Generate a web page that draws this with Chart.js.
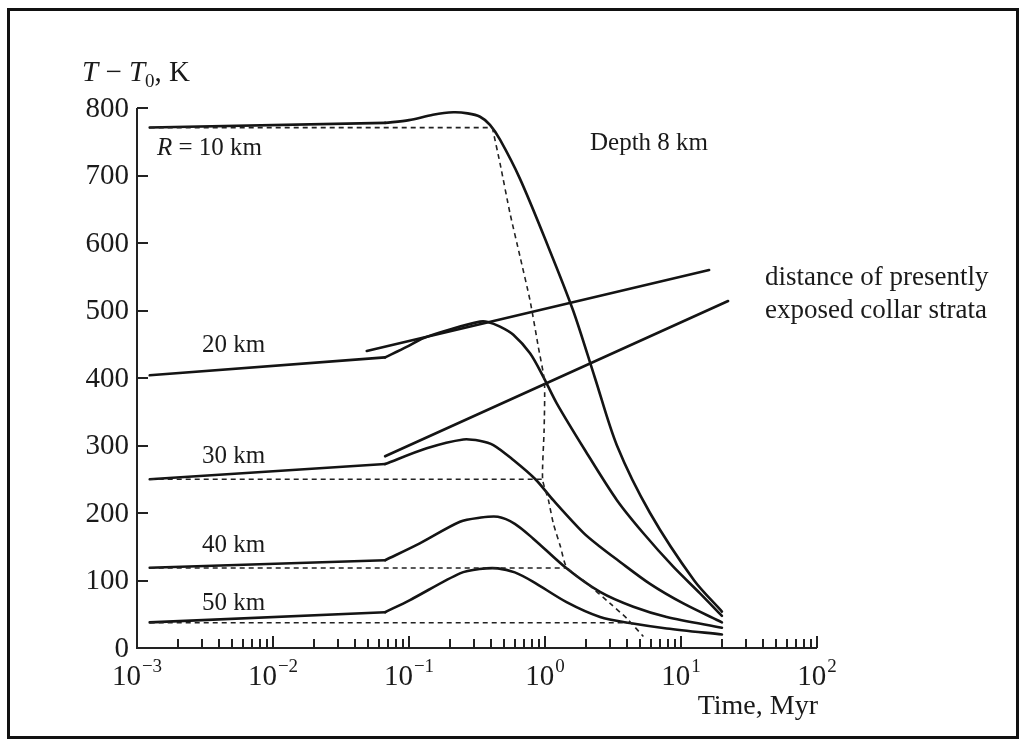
<!DOCTYPE html>
<html>
<head>
<meta charset="utf-8">
<script src="https://cdn.jsdelivr.net/npm/chart.js@4/dist/chart.umd.min.js"></script>
<style>
html,body{margin:0;padding:0;background:#fff;}
#wrap{position:relative;width:1031px;height:749px;}
</style>
</head>
<body>
<div id="wrap"><canvas id="c" width="1031" height="749"></canvas></div>
<script>
// ---- data (time in Myr, temperature excess in K) ----
// first two points of each curve: the straight early segment up to the knee
const timeR10 = [0.00124, 0.0667, 0.1, 0.15, 0.212, 0.27, 0.333, 0.394, 0.467, 0.655, 1.03, 1.61, 2.33, 3.38, 5.92, 12.5, 20];
const tempR10 = [771, 778, 782, 790, 793.6, 792, 787, 775, 753, 695, 600, 500, 400, 300, 200, 100, 54];

const timeR20 = [0.00124, 0.0667, 0.096, 0.127, 0.2, 0.333, 0.38, 0.467, 0.585, 0.776, 0.97, 1.22, 1.97, 3.38, 5.29, 8.77, 13.8, 20];
const tempR20 = [404, 430.5, 446, 459, 472, 483.5, 483, 476, 464, 436.5, 402, 362.5, 293, 219, 170, 120.5, 81, 47.5];

const timeR30 = [0.00124, 0.0667, 0.135, 0.251, 0.33, 0.417, 0.585, 0.85, 1.15, 1.91, 2.54, 3.38, 5.92, 10.4, 20];
const tempR30 = [250, 272.5, 296, 309, 307, 300.7, 278.5, 250, 219, 171, 150, 131, 95, 66, 38];

const timeR40 = [0.00124, 0.0667, 0.12, 0.237, 0.33, 0.45, 0.6, 0.82, 1.44, 2.54, 4.46, 7.85, 20];
const tempR40 = [119, 130, 155, 187, 193, 194.5, 184, 162, 118, 83, 61, 46, 30];

const timeR50 = [0.00124, 0.0667, 0.1016, 0.237, 0.33, 0.45, 0.6, 0.82, 1.44, 2.54, 4.2, 7.85, 20];
const tempR50 = [38, 53, 71, 110.6, 117, 118, 112, 98, 68, 46, 37, 29, 20];

// initial-temperature reference levels (dashed) and where they end
const levelStart = 0.00124;
const levelTemps = [771, 250, 118.5, 37.5];
const levelEnds  = [0.41, 0.96, 1.44, 4.1];

// dashed locus where each curve returns to its initial level
const timeLocus = [0.41, 0.467, 0.553, 0.655, 0.776, 0.893, 0.99, 0.985, 0.96, 1.06, 1.15, 1.3, 1.44, 2.03, 3.01, 3.99, 5.29];
const tempLocus = [771, 718, 644, 580, 515, 446, 395, 323, 250, 219, 185, 150, 120, 96, 66, 44, 17];

// "distance of presently exposed collar strata" lines
const timeUpperLine = [0.0489, 16.1];
const tempUpperLine = [440, 560];
const timeLowerLine = [0.0667, 22.2];
const tempLowerLine = [284, 514];

// axis ticks
const xTickExponents = [-3, -2, -1, 0, 1, 2];
const yTickValues = [0, 100, 200, 300, 400, 500, 600, 700, 800];

// ---- build chart ----
const pts = (t, v) => t.map((x, i) => ({x: x, y: v[i]}));
const INK = '#141414';
function line(t, v, tension) {
  return {data: pts(t, v), borderColor: INK, borderWidth: 2.6, pointRadius: 0, tension: tension,
          fill: false, borderJoinStyle: 'round', borderCapStyle: 'round'};
}
function dashed(t, v, tension) {
  return {data: pts(t, v), borderColor: '#222', borderWidth: 1.6, pointRadius: 0, tension: tension,
          borderDash: [5, 4], fill: false};
}

const datasets = [];
levelTemps.forEach((lv, i) => datasets.push(dashed([levelStart, levelEnds[i]], [lv, lv], 0)));
datasets.push(dashed(timeLocus, tempLocus, 0.2));
[[timeR10, tempR10], [timeR20, tempR20], [timeR30, tempR30], [timeR40, tempR40], [timeR50, tempR50]].forEach(([t, v]) => {
  datasets.push(line(t.slice(0, 2), v.slice(0, 2), 0));      // straight early part
  datasets.push(line(t.slice(1), v.slice(1), 0.3));          // smooth heating / cooling part
});
datasets.push(line(timeUpperLine, tempUpperLine, 0));
datasets.push(line(timeLowerLine, tempLowerLine, 0));

const SERIF = '"Liberation Serif", "DejaVu Serif", serif';

const decor = {
  id: 'decor',
  afterDraw(chart) {
    const ctx = chart.ctx;
    const xs = chart.scales.x, ys = chart.scales.y;
    ctx.save();
    // outer frame
    ctx.strokeStyle = '#111';
    ctx.lineWidth = 3;
    ctx.strokeRect(8.5, 9.5, 1009, 728);

    const x0 = xs.getPixelForValue(1e-3), x1 = xs.getPixelForValue(1e2);
    const y0 = ys.getPixelForValue(0), y1 = ys.getPixelForValue(800);
    ctx.strokeStyle = '#222';
    ctx.lineWidth = 2;
    ctx.beginPath();
    ctx.moveTo(x0, y1); ctx.lineTo(x0, y0); ctx.lineTo(x1, y0);
    ctx.stroke();

    // y ticks (inward)
    ctx.beginPath();
    yTickValues.forEach(v => { const py = Math.round(ys.getPixelForValue(v)); ctx.moveTo(x0, py); ctx.lineTo(x0 + 11, py); });
    // x ticks (inward), decades longer
    xTickExponents.forEach((e, k) => {
      const px = Math.round(xs.getPixelForValue(Math.pow(10, e)));
      ctx.moveTo(px, y0); ctx.lineTo(px, y0 - 12);
      if (k < xTickExponents.length - 1) {
        for (let m = 2; m <= 9; m++) {
          const q = Math.round(xs.getPixelForValue(m * Math.pow(10, e)));
          ctx.moveTo(q, y0); ctx.lineTo(q, y0 - 9);
        }
      }
    });
    ctx.stroke();

    ctx.fillStyle = '#1a1a1a';
    // y tick labels
    ctx.font = '29px ' + SERIF;
    ctx.textAlign = 'right';
    ctx.textBaseline = 'middle';
    yTickValues.forEach(v => ctx.fillText(String(v), x0 - 8, ys.getPixelForValue(v) + 1));

    // x tick labels 10^e
    ctx.textAlign = 'left';
    ctx.textBaseline = 'alphabetic';
    xTickExponents.forEach(e => {
      const px = xs.getPixelForValue(Math.pow(10, e));
      const sup = e < 0 ? '\u2212' + (-e) : String(e);
      ctx.font = '29px ' + SERIF;
      const wb = ctx.measureText('10').width;
      ctx.font = '19px ' + SERIF;
      const ws = ctx.measureText(sup).width;
      const start = px - (wb + ws + 1) / 2;
      ctx.font = '29px ' + SERIF;
      ctx.fillText('10', start, 685);
      ctx.font = '19px ' + SERIF;
      ctx.fillText(sup, start + wb + 1, 672);
    });

    // axis titles
    ctx.font = '28px ' + SERIF;
    ctx.textAlign = 'right';
    ctx.fillText('Time, Myr', x1 + 1, 714);

    // y title: T − T0, K
    ctx.textAlign = 'left';
    let cx = 82;
    const by = 81;
    ctx.font = 'italic 29px ' + SERIF; ctx.fillText('T', cx, by); cx += ctx.measureText('T').width;
    ctx.font = '29px ' + SERIF; ctx.fillText(' \u2212 ', cx, by); cx += ctx.measureText(' \u2212 ').width;
    ctx.font = 'italic 29px ' + SERIF; ctx.fillText('T', cx, by); cx += ctx.measureText('T').width;
    ctx.font = '19px ' + SERIF; ctx.fillText('0', cx, by + 6); cx += ctx.measureText('0').width;
    ctx.font = '29px ' + SERIF; ctx.fillText(', K', cx, by);

    // curve labels
    ctx.font = 'italic 25px ' + SERIF;
    ctx.fillText('R', 157, 155);
    const rw = ctx.measureText('R').width;
    ctx.font = '25px ' + SERIF;
    ctx.fillText(' = 10 km', 157 + rw, 155);
    ctx.fillText('20 km', 202, 352);
    ctx.fillText('30 km', 202, 463);
    ctx.fillText('40 km', 202, 552);
    ctx.fillText('50 km', 202, 610);
    ctx.fillText('Depth 8 km', 590, 150);
    ctx.font = '27px ' + SERIF;
    ctx.fillText('distance of presently', 765, 285);
    ctx.fillText('exposed collar strata', 765, 318);
    ctx.restore();
  }
};

new Chart(document.getElementById('c'), {
  type: 'line',
  data: {datasets: datasets},
  options: {
    responsive: false,
    devicePixelRatio: 1,
    animation: false,
    events: [],
    layout: {padding: {left: 137, right: 214, top: 108, bottom: 101}},
    plugins: {legend: {display: false}, tooltip: {enabled: false}},
    scales: {
      x: {type: 'logarithmic', min: 1e-3, max: 1e2, display: false},
      y: {type: 'linear', min: 0, max: 800, display: false}
    }
  },
  plugins: [decor]
});
</script>
</body>
</html>
